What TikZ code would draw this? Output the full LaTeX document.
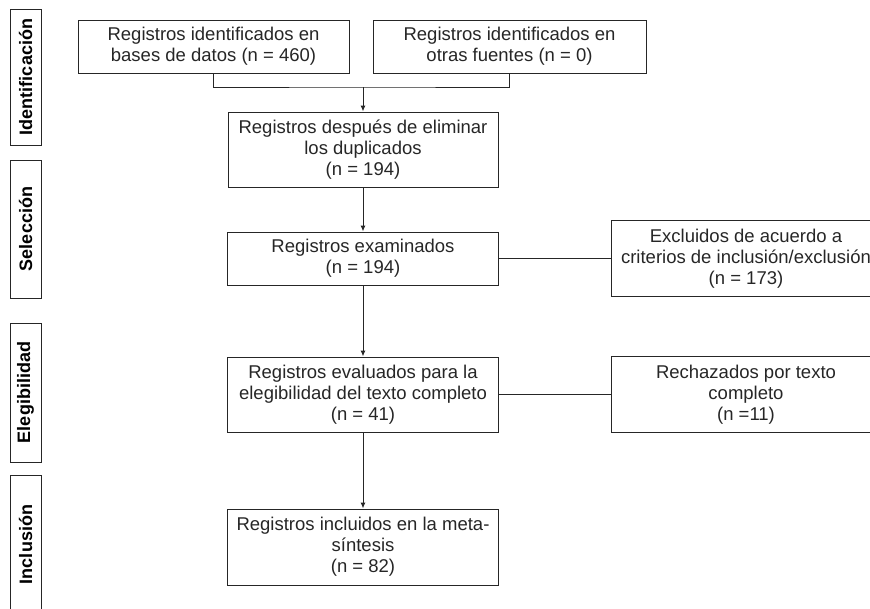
\documentclass[tikz,border=0pt]{standalone}
\usepackage{fontspec}
\setmainfont{Liberation Sans}
\usetikzlibrary{positioning,arrows.meta}

\begin{document}
\begin{tikzpicture}[x=1pt, y=-1pt,
                    >={Latex[length=6pt,width=5pt]},
                    recbox/.style={rectangle, draw=black!85, line width=1pt, text=black!85, align=center, minimum width=270pt, font=\fontsize{18.5}{21}\selectfont},
                    phasebox/.style={rectangle, draw=black!85, line width=1pt, rotate=90, minimum height=31pt, inner sep=0pt, font=\fontsize{18}{21}\selectfont\bfseries},
                ]
                    \useasboundingbox (0,0) rectangle (870,608);

                    %Phases
                    \node[phasebox, minimum width=136pt](ident) at (25.5,77) {Identificación};
                    \node[phasebox, minimum width=138pt](selec) at (25.5,229) {Selección};
                    \node[phasebox, minimum width=139pt](elegi) at (25.5,392.5) {Elegibilidad};
                    \node[phasebox, minimum width=139pt](inclu) at (25.5,544.5) {Inclusión};

                    %Nodes
                    \node[recbox, minimum width=271pt, minimum height=53pt](bases) at (213.5,46.5) {Registros identificados en\\bases de datos (n = 460)};
                    \node[recbox, minimum width=273pt, minimum height=53pt](otras) at (509.5,46.5) {Registros identificados en\\otras fuentes (n = 0)};
                    \node[recbox, minimum height=75pt](dup) at (363,149.5) {Registros después de eliminar\\los duplicados\\(n = 194)};
                    \node[recbox, minimum width=271pt, minimum height=53pt](exam)[below=44pt of dup] {Registros examinados\\(n = 194)};
                    \node[recbox, minimum width=271pt, minimum height=75pt](eval)[below=71pt of exam] {Registros evaluados para la\\elegibilidad del texto completo\\(n = 41)};
                    \node[recbox, minimum width=271pt, minimum height=76pt](incl)[below=76pt of eval] {Registros incluidos en la meta-\\síntesis\\(n = 82)};
                    \node[recbox, minimum width=269pt, minimum height=76pt](excl)[right=112pt of exam] {Excluidos de acuerdo a\\criterios de inclusión/exclusión\\(n = 173)};
                    \node[recbox, minimum width=269pt, minimum height=76pt](rech)[right=112pt of eval] {Rechazados por texto\\completo\\(n =11)};

                    %Lines
                    \coordinate (join) at (363,87);
                    \draw[line width=1pt, draw=black!85](bases.south) |- (join) -| (otras.south);
                    \draw[line width=1pt, draw=black!85, ->](join) -- (dup.north);
                    \draw[line width=1pt, draw=black!85, ->](dup.south) -- (exam.north);
                    \draw[line width=1pt, draw=black!85, ->](exam.south) -- (eval.north);
                    \draw[line width=1pt, draw=black!85, ->](eval.south) -- (incl.north);
                    \draw[line width=1pt, draw=black!85](exam.east) -- (exam.east -| excl.west);
                    \draw[line width=1pt, draw=black!85](eval.east) -- (eval.east -| rech.west);
                \end{tikzpicture}
\end{document}
